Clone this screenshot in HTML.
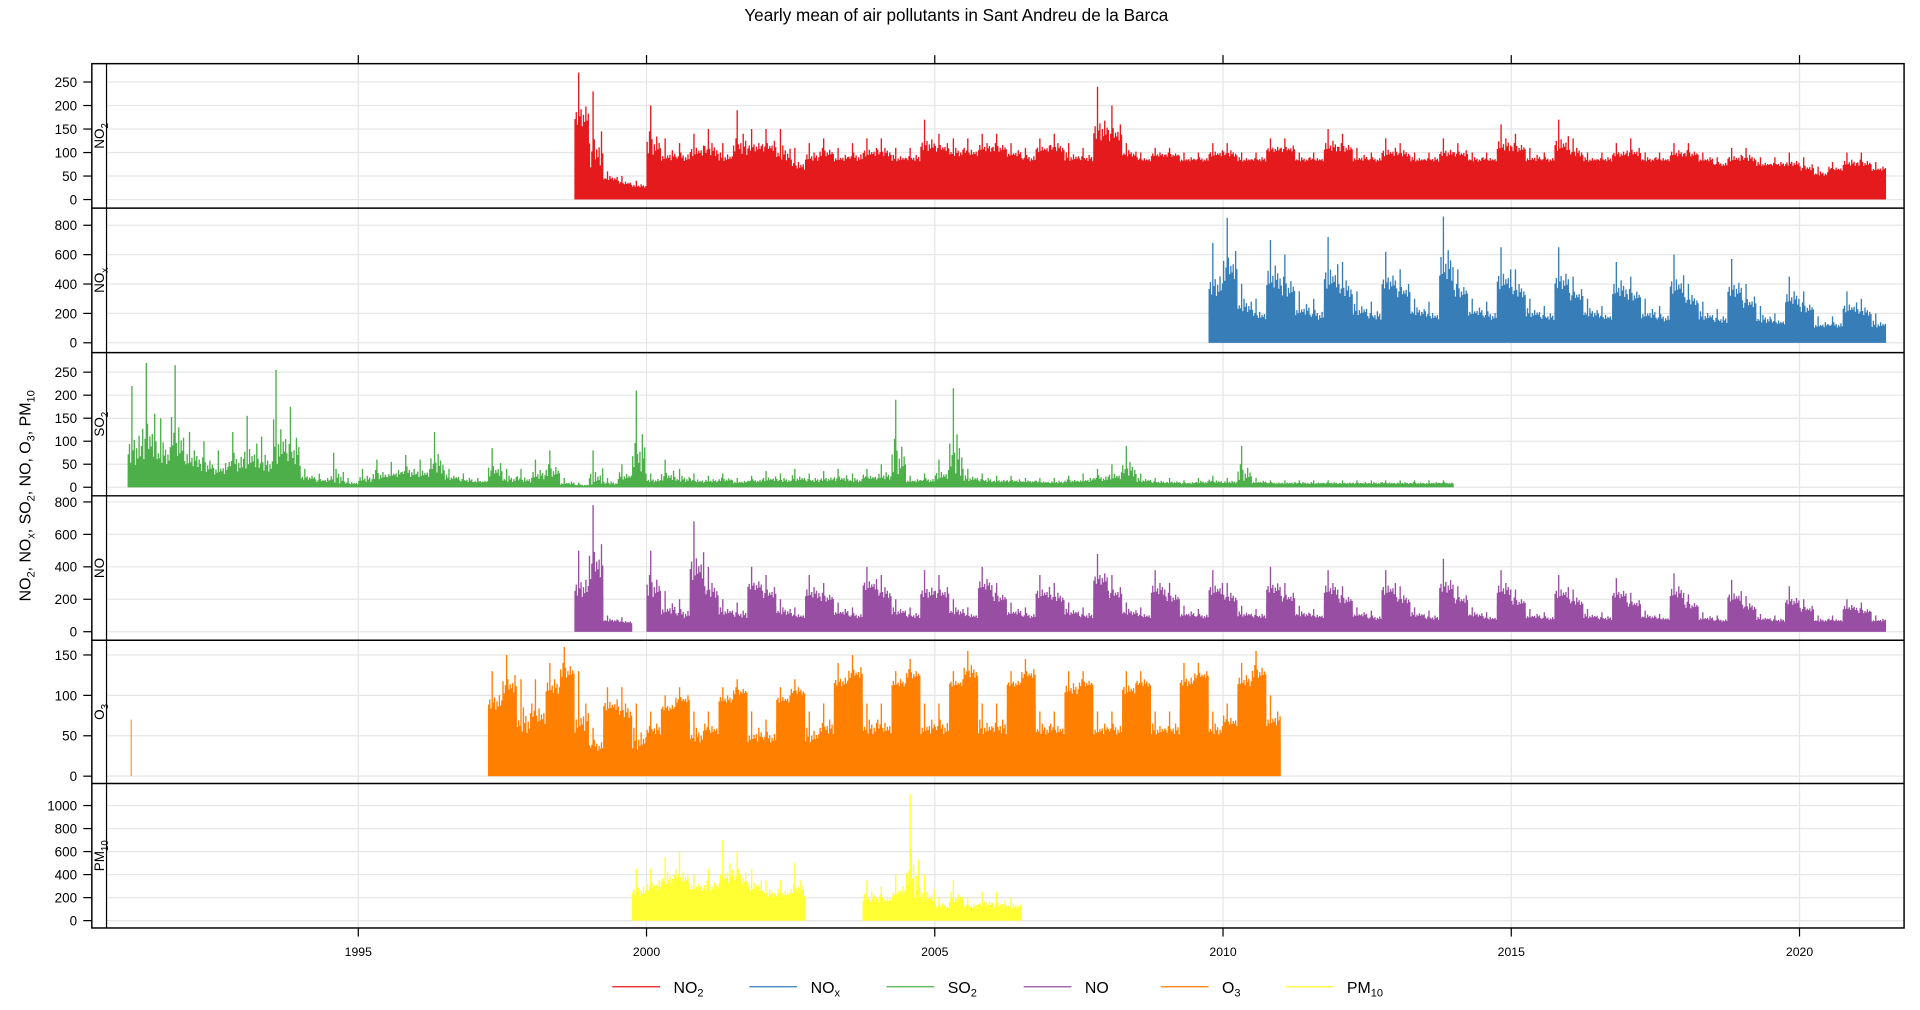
<!DOCTYPE html>
<html><head><meta charset="utf-8"><style>
html,body{margin:0;padding:0;background:#fff;}
svg{display:block;font-family:"Liberation Sans",Arial,sans-serif;}
</style></head><body>
<svg id="chart" width="1920" height="1010" viewBox="0 0 1568 825" preserveAspectRatio="none" xmlns="http://www.w3.org/2000/svg">
<text x="781" y="17" text-anchor="middle" font-size="14">Yearly mean of air pollutants in Sant Andreu de la Barca</text>
<g id="grid"></g><g id="marks"></g><g id="axes"></g>
<text transform="translate(25,405) rotate(-90)" text-anchor="middle" font-size="13">NO<tspan font-size="9" dy="3">2</tspan><tspan dy="-3">, NO</tspan><tspan font-size="9" dy="3">x</tspan><tspan dy="-3">, SO</tspan><tspan font-size="9" dy="3">2</tspan><tspan dy="-3">, NO, O</tspan><tspan font-size="9" dy="3">3</tspan><tspan dy="-3">, PM</tspan><tspan font-size="9" dy="3">10</tspan></text>
<g id="legend"></g>
</svg>
<script>
const years=[1995,2000,2005,2010,2015,2020];
const seriesNames=['NO2','NOx','SO2','NO','O3','PM10'];
const seriesColors=['#E41A1C','#377EB8','#4DAF4A','#984EA3','#FF7F00','#FFFF33'];
const yTicks=[[0,50,100,150,200,250],[0,200,400,600,800],[0,50,100,150,200,250],[0,200,400,600,800],[0,50,100,150],[0,200,400,600,800,1000]];
const startYears=[1998.75,2009.75,1991.0,1998.75,1997.25,1999.75];
const no2Typ=[150,60,40,30,25,90,80,80,90,90,80,90,100,100,80,60,80,90,80,80,90,90,80,80,100,100,90,90,100,100,90,80,100,100,80,80,120,120,90,80,90,90,80,80,90,90,80,80,100,100,80,80,100,100,80,80,90,90,80,80,90,90,80,80,100,100,80,80,100,90,80,80,90,90,80,80,90,90,80,70,80,80,70,70,70,60,50,60,70,70,60];
const no2Max=[270,230,60,50,40,200,130,120,140,150,120,190,150,150,150,110,120,130,110,120,130,130,110,110,170,140,130,130,140,140,120,110,130,140,120,110,240,200,120,100,110,110,100,100,120,120,100,100,130,130,100,100,150,140,110,100,130,120,100,100,130,120,100,100,160,140,110,100,170,130,100,100,120,130,100,100,120,120,100,90,110,110,90,90,100,90,70,80,100,100,80];
const noxTyp=[300,400,200,150,350,300,180,150,350,300,180,150,350,300,180,150,400,300,180,150,350,300,170,150,350,280,170,150,300,280,160,140,320,250,150,130,300,230,130,120,250,200,100,100,200,180,100];
const noxMax=[680,850,400,300,700,600,350,300,720,550,350,280,620,500,300,280,860,500,300,280,650,500,300,250,650,450,300,250,550,450,300,250,600,400,280,230,570,400,250,200,450,350,180,180,350,300,200];
const so2Typ=[40,50,45,40,40,30,25,30,35,30,40,40,15,10,5,5,10,15,20,20,20,25,15,10,10,20,10,8,15,20,5,3,2,5,15,20,10,12,10,8,10,12,8,10,12,10,12,10,12,12,10,15,15,20,10,10,15,15,12,10,10,10,10,8,8,10,10,12,15,20,10,8,8,7,8,8,8,10,8,7,7,7,7,7,7,7,7,7,7,7,7,7];
const so2Max=[220,270,150,265,120,100,80,120,155,110,255,175,40,30,75,20,40,60,55,70,60,120,40,30,20,85,40,40,60,80,20,10,80,20,50,210,30,60,40,30,25,30,20,25,35,30,40,30,35,40,30,40,50,190,25,30,60,215,40,30,25,25,20,20,20,25,30,40,50,90,30,20,20,15,20,25,20,90,20,15,15,15,15,15,15,15,15,15,15,15,15,15];
const noTyp=[200,300,60,50,0,200,100,80,300,200,100,80,250,200,100,80,200,180,100,80,250,200,100,80,200,200,100,80,250,180,100,80,200,180,100,80,280,200,100,80,220,180,90,80,220,180,90,80,230,180,90,80,220,170,90,70,220,170,90,70,230,170,90,70,220,160,80,70,200,160,80,70,200,150,80,70,200,140,70,60,180,130,70,60,160,120,60,60,130,110,60];
const noMax=[500,780,100,90,0,500,250,200,680,400,200,180,400,350,200,150,350,300,180,150,400,350,200,150,380,350,200,150,400,300,180,150,350,300,180,150,480,350,180,150,380,300,160,140,380,300,160,140,400,300,160,140,380,280,150,130,380,280,150,130,450,280,150,120,380,260,140,120,350,260,140,120,330,240,130,110,360,230,120,100,320,220,110,100,280,200,100,100,200,180,100];
const o3Typ=[80,100,50,60,100,120,50,30,80,70,30,50,80,90,40,50,90,100,40,40,90,100,40,50,110,120,50,50,110,120,50,50,110,120,50,50,110,120,50,50,100,110,50,50,100,110,50,50,110,120,50,60,110,120,60];
const o3Max=[130,150,120,120,140,160,130,60,110,110,90,80,100,110,80,80,110,120,80,70,110,120,80,90,140,150,90,90,130,145,90,90,130,155,90,90,130,145,80,80,130,130,80,80,130,130,80,80,140,140,80,90,140,155,100];
const pmTyp=[200,250,300,300,250,250,300,300,250,200,200,200,0,0,0,0,150,150,200,150,150,100,150,100,120,100,100];
const pmMax=[450,450,550,600,400,450,700,600,450,350,350,500,0,0,0,0,350,300,400,1100,400,200,350,200,250,250,200];
const typArr=[no2Typ,noxTyp,so2Typ,noTyp,o3Typ,pmTyp];
const maxArr=[no2Max,noxMax,so2Max,noMax,o3Max,pmMax];
const spikeYears=[1991.06];
const spikeVals=[70];
const spikeShape=[0.35,0.6,0.15,1,0.45,0.7,0.1,0.5,0.25,0.8,0.3,0.55];

const NS='http://www.w3.org/2000/svg';
const L=75,R=1555,T=52,B=758;
const panelTop=[52,170,288,405,523,640], panelH=[118,118,117,118,117,118];
const yZeroPx=[163,280,398,516,634,752];
const yRefVal=[250,800,250,800,150,1000], yRefPx=[67,184,304,410,535,658];
function x(yr){return 528+(yr-2000)*47.08;}
function yScale(p,v){return yZeroPx[p]-(yZeroPx[p]-yRefPx[p])*v/yRefVal[p];}
function mk(tag,attrs,parent){const e=document.createElementNS(NS,tag);for(const k in attrs)e.setAttribute(k,attrs[k]);parent.appendChild(e);return e;}
const grid=document.getElementById('grid'),marks=document.getElementById('marks'),axes=document.getElementById('axes');

years.forEach(yr=>{
  const g=mk('line',{x1:x(yr),x2:x(yr),y1:T,y2:B,stroke:'#e6e6e6','stroke-width':1},grid);
  
  
  mk('line',{x1:x(yr),x2:x(yr),y1:T-7,y2:T,stroke:'#000'},axes);
  mk('line',{x1:x(yr),x2:x(yr),y1:B,y2:B+7,stroke:'#000'},axes);
  const t=mk('text',{x:x(yr),y:B+23,'text-anchor':'middle','font-size':10},axes);
  t.textContent=yr;
  
  
});
const labelSubs=[['NO','2'],['NO','x'],['SO','2'],['NO',''],['O','3'],['PM','10']];
for(let p=0;p<6;p++){
  yTicks[p].forEach(v=>{
    const yy=yScale(p,v);
    mk('line',{x1:87,x2:R,y1:yy,y2:yy,stroke:'#e6e6e6'},grid);
    mk('line',{x1:L-7,x2:L,y1:yy,y2:yy,stroke:'#000'},axes);
    const t=mk('text',{x:L-12,y:yy+4,'text-anchor':'end','font-size':11},axes);
    t.textContent=v;
    
    
  });
  if(p>0) mk('line',{x1:L,x2:R,y1:panelTop[p],y2:panelTop[p],stroke:'#000','stroke-width':1.2},axes);
  const lab=mk('text',{transform:`translate(85,${panelTop[p]+panelH[p]/2}) rotate(-90)`,'text-anchor':'middle','font-size':11},axes);
  
  
  lab.textContent=labelSubs[p][0];
  if(labelSubs[p][1]){const ts=mk('tspan',{'font-size':8,dy:3},lab);ts.textContent=labelSubs[p][1];}
  const st=startYears[p],typ=typArr[p],mx=maxArr[p],col=seriesColors[p];
  const grp=mk('g',{},marks);
  
  
  let d='',sd='';
  const n=spikeShape.length;
  for(let i=0;i<typ.length;i++){
    if(typ[i]<=0)continue;
    const x0=x(st+i*0.25),x1=x(st+(i+1)*0.25);
    const base=typ[i]*0.75;
    d+=`M${x0},${yZeroPx[p]}L${x0},${yScale(p,base)}L${x1},${yScale(p,base)}L${x1},${yZeroPx[p]}Z`;
    for(let j=0;j<n;j++){
      const f=spikeShape[(j+i*5)%n];
      const v=j===3?mx[i]:typ[i]+(mx[i]-typ[i])*f*0.5;
      const xx=x0+(x1-x0)*(j+0.5)/n;
      sd+=`M${xx.toFixed(2)},${yZeroPx[p]}V${yScale(p,v).toFixed(2)}`;
    }
  }
  const area=mk('path',{d:d,fill:col,stroke:'none'},grp);
  
  
  const sp=mk('path',{d:sd,fill:'none',stroke:col,'stroke-width':1.1},grp);
  
  
}
spikeYears.forEach((yr,i)=>{
  const ln=mk('line',{x1:x(yr),x2:x(yr),y1:yZeroPx[4],y2:yScale(4,spikeVals[i]),stroke:seriesColors[4],'stroke-width':0.8},marks);
  
  
});
mk('rect',{x:L,y:T,width:R-L,height:B-T,fill:'none',stroke:'#000','stroke-width':1.2},axes);
mk('line',{x1:87,x2:87,y1:T,y2:B,stroke:'#000'},axes);
const leg=document.getElementById('legend');
const legX=[500,612,724,836,948,1050];
for(let i=0;i<6;i++){
  const g=mk('g',{},leg);
  
  
  mk('line',{x1:legX[i],x2:legX[i]+39,y1:806,y2:806,stroke:seriesColors[i]},g);
  const t=mk('text',{x:legX[i]+50,y:811,'font-size':13},g);
  t.textContent=labelSubs[i][0];
  if(labelSubs[i][1]){const ts=mk('tspan',{'font-size':9,dy:3},t);ts.textContent=labelSubs[i][1];}
}
</script>
</body></html>
